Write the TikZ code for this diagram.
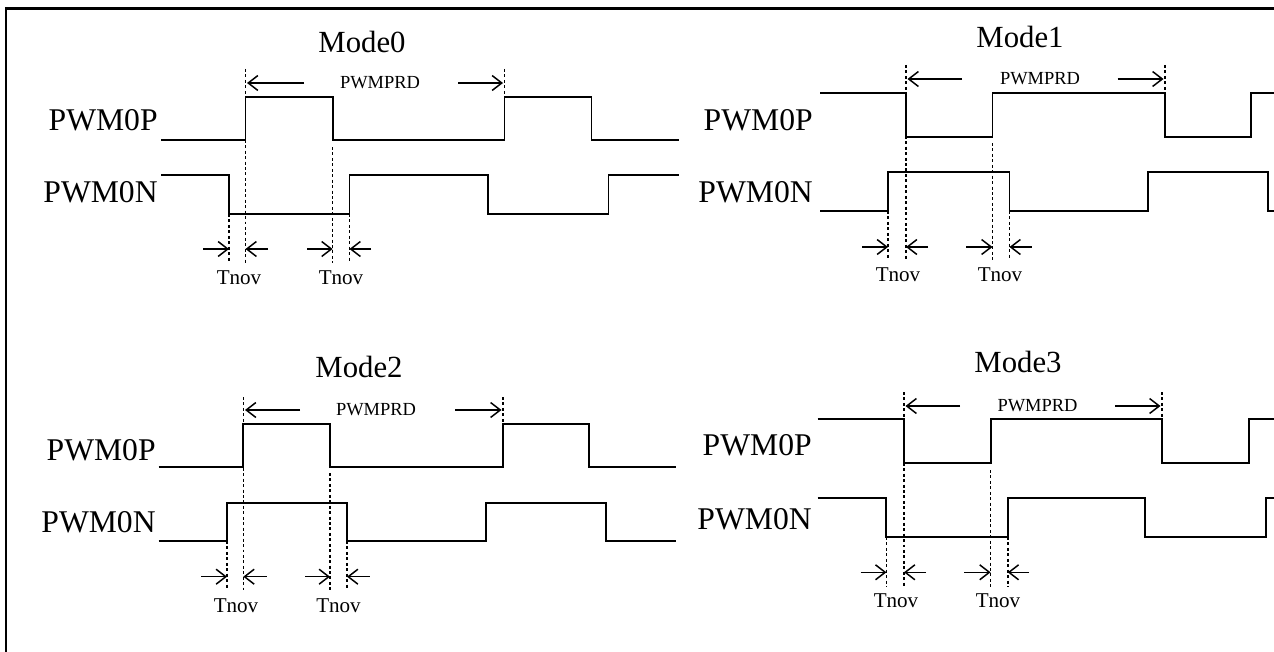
\documentclass[tikz,border=0pt]{standalone}
\usepackage{fontspec}
\setmainfont{Liberation Serif}
\usetikzlibrary{arrows.meta}

\begin{document}
\begin{tikzpicture}[x=0.02cm, y=-0.02cm,
    sig/.style={line width=1.1pt},
    guide/.style={line width=0.9pt, dash pattern=on 1.7pt off 1.4pt},
    dimarrow/.style={line width=0.85pt, -{Straight Barb[length=5.5pt,width=8.5pt]}},
    signame/.style={font=\fontsize{18}{21}\selectfont, anchor=east, inner sep=0pt},
    modetitle/.style={font=\fontsize{17.5}{20}\selectfont, inner sep=0pt},
    smalltext/.style={font=\fontsize{12}{14}\selectfont, inner sep=0pt}]
    \useasboundingbox (0,0) rectangle (1274,652);
    \draw[line width=1.4pt] (6,652) -- (6,8.5) -- (1274,8.5);

    % Mode0
    \node[modetitle] (mode0) at (362,42) {Mode0};
    \node[smalltext, font=\fontsize{10.5}{12}\selectfont] (prd0) at (380,83) {PWMPRD};
    \draw[dimarrow] (304,83) -- (247,83);
    \draw[dimarrow] (458,83) -- (503,83);
    \draw[guide] (245.5,69) -- (245.5,263);
    \draw[guide] (504.5,69) -- (504.5,97);
    \draw[guide] (332.6,147) -- (332.6,263);
    \draw[guide] (229,214) -- (229,263);
    \draw[guide] (349.5,214) -- (349.5,263);
    \node[signame] (p0) at (158,120) {PWM0P};
    \node[signame] (n0) at (158,192) {PWM0N};
    \draw[sig] (161,140) -| (245.5,97) -| (332.6,140) -| (504.5,97) -| (591.5,140) -- (678.6,140);
    \draw[sig] (161,175) -| (229,214) -| (349.5,175) -| (488,214) -| (608.5,175) -- (678.6,175);
    \draw[dimarrow] (203,249) -- (229,249);
    \draw[dimarrow] (268,249) -- (245.5,249);
    \draw[dimarrow] (307,249) -- (332.6,249);
    \draw[dimarrow] (371,249) -- (349.5,249);
    \node[smalltext] (ta0) at (239,278) {Tnov};
    \node[smalltext] (tb0) at (341,278) {Tnov};

    % Mode1
    \node[modetitle] (mode1) at (1020,37) {Mode1};
    \node[smalltext, font=\fontsize{10.5}{12}\selectfont] (prd1) at (1040,79) {PWMPRD};
    \draw[dimarrow] (962,79) -- (907.5,79);
    \draw[dimarrow] (1117.5,79) -- (1163.5,79);
    \draw[guide] (906,65) -- (906,260);
    \draw[guide] (1165,65) -- (1165,93);
    \draw[guide] (992.5,143) -- (992.5,260);
    \draw[guide] (888,211) -- (888,260);
    \draw[guide] (1009.5,211) -- (1009.5,260);
    \node[signame] (p1) at (813,120) {PWM0P};
    \node[signame] (n1) at (813,192) {PWM0N};
    \draw[sig] (820,93.3) -| (906,136.7) -| (992.5,93.3) -| (1165,136.7) -| (1251,93.3) -- (1274,93.3);
    \draw[sig] (820,210.7) -| (888,171.7) -| (1009.5,210.7) -| (1148,171.7) -| (1268,210.7) -- (1274,210.7);
    \draw[dimarrow] (862,247) -- (888,247);
    \draw[dimarrow] (928,247) -- (906,247);
    \draw[dimarrow] (966,247) -- (992.5,247);
    \draw[dimarrow] (1031.5,247) -- (1009.5,247);
    \node[smalltext] (ta1) at (898,275) {Tnov};
    \node[smalltext] (tb1) at (1000,275) {Tnov};

    % Mode2
    \node[modetitle] (mode2) at (359,367) {Mode2};
    \node[smalltext, font=\fontsize{10.5}{12}\selectfont] (prd2) at (376,410) {PWMPRD};
    \draw[dimarrow] (300,410) -- (245,410);
    \draw[dimarrow] (455,410) -- (501.5,410);
    \draw[guide] (243.3,397) -- (243.3,590);
    \draw[guide] (503,397) -- (503,424);
    \draw[guide] (330,473) -- (330,590);
    \draw[guide] (227,541) -- (227,590);
    \draw[guide] (347,541) -- (347,590);
    \node[signame] (p2) at (156,450) {PWM0P};
    \node[signame] (n2) at (156,522) {PWM0N};
    \draw[sig] (158.5,466.7) -| (243.3,424) -| (330,466.7) -| (503,424) -| (589,466.7) -- (676,466.7);
    \draw[sig] (158.5,541) -| (227,502.7) -| (347,541) -| (485.7,502.7) -| (606,541) -- (676,541);
    \draw[dimarrow] (201,576.7) -- (227,576.7);
    \draw[dimarrow] (266.5,576.7) -- (243.3,576.7);
    \draw[dimarrow] (305,576.7) -- (330,576.7);
    \draw[dimarrow] (369.6,576.7) -- (347,576.7);
    \node[smalltext] (ta2) at (236,606) {Tnov};
    \node[smalltext] (tb2) at (338.5,606) {Tnov};

    % Mode3
    \node[modetitle] (mode3) at (1018,362) {Mode3};
    \node[smalltext, font=\fontsize{10.5}{12}\selectfont] (prd3) at (1037.5,406) {PWMPRD};
    \draw[dimarrow] (960,406) -- (905.5,406);
    \draw[dimarrow] (1115,406) -- (1160.5,406);
    \draw[guide] (904,392) -- (904,587);
    \draw[guide] (1162,392) -- (1162,419);
    \draw[guide] (990.6,470) -- (990.6,587);
    \draw[guide] (886.4,537) -- (886.4,587);
    \draw[guide] (1007.7,537) -- (1007.7,587);
    \node[signame] (p3) at (812,445) {PWM0P};
    \node[signame] (n3) at (812,519) {PWM0N};
    \draw[sig] (817.5,419) -| (904,463.3) -| (990.6,419) -| (1162,463.3) -| (1249,419) -- (1274,419);
    \draw[sig] (817.5,498.3) -| (886.4,537.3) -| (1007.7,498.3) -| (1145,537.3) -| (1266,498.3) -- (1274,498.3);
    \draw[dimarrow] (860.7,572.3) -- (886.4,572.3);
    \draw[dimarrow] (926,572.3) -- (904,572.3);
    \draw[dimarrow] (964,572.3) -- (990.6,572.3);
    \draw[dimarrow] (1029,572.3) -- (1007.7,572.3);
    \node[smalltext] (ta3) at (896,601) {Tnov};
    \node[smalltext] (tb3) at (998,601) {Tnov};
\end{tikzpicture}
\end{document}
